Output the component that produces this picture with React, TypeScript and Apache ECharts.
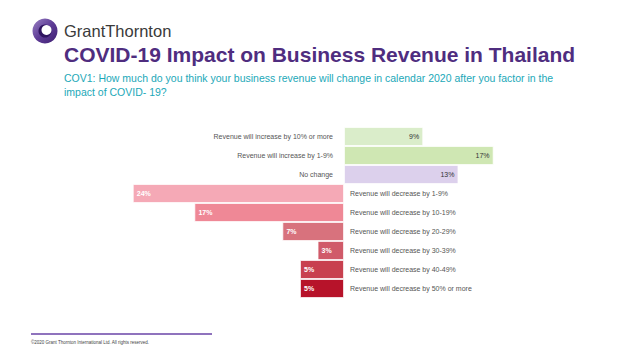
import React, { useEffect, useRef } from "react";
import * as echarts from "echarts";

const categories = [
  "Revenue will increase by 10% or more",
  "Revenue will increase by 1-9%",
  "No change",
  "Revenue will decrease by 1-9%",
  "Revenue will decrease by 10-19%",
  "Revenue will decrease by 20-29%",
  "Revenue will decrease by 30-39%",
  "Revenue will decrease by 40-49%",
  "Revenue will decrease by 50% or more",
];
const values = [9, 17, 13, -24, -17, -7, -3, -5, -5];
const barColors = [
  "#daedca",
  "#cfe7b3",
  "#dcd0ec",
  "#f5a9b6",
  "#ef8896",
  "#d8727d",
  "#d05a69",
  "#c8404f",
  "#b7132a",
];

const FONT = "'Liberation Sans', Arial, sans-serif";

export default function App() {
  const ref = useRef<HTMLDivElement>(null);
  useEffect(() => {
    if (!ref.current) return;
    const chart = echarts.init(ref.current, undefined, { renderer: "svg" });
    const valueData = values.map((v, i) => ({
      value: v,
      itemStyle: { color: barColors[i] },
      label: {
        show: true,
        position: v >= 0 ? "insideRight" : "insideLeft",
        distance: 4,
        color: v >= 0 ? "#333333" : "#ffffff",
        fontSize: 7,
        fontFamily: FONT,
        fontWeight: v >= 0 ? "normal" : "bold",
        formatter: Math.abs(v) + "%",
      },
    }));
    const catData = values.map((v, i) => ({
      value: v,
      label: {
        show: true,
        position: v >= 0 ? "left" : "right",
        distance: v >= 0 ? 11 : 6,
        color: "#555555",
        fontSize: 7,
        fontFamily: FONT,
        formatter: categories[i],
      },
    }));
    chart.setOption({
      animation: false,
      grid: { left: 124, width: 396, top: 127, height: 171, containLabel: false },
      xAxis: {
        type: "value",
        min: -25,
        max: 20,
        show: false,
      },
      yAxis: {
        type: "category",
        data: categories,
        inverse: true,
        show: false,
      },
      series: [
        {
          type: "bar",
          data: valueData,
          barCategoryGap: "0%",
          barGap: "-100%",
          itemStyle: { borderColor: "#ffffff", borderWidth: 0.8 },
        },
        {
          type: "bar",
          data: catData,
          barCategoryGap: "0%",
          barGap: "-100%",
          itemStyle: { color: "rgba(0,0,0,0)" },
          silent: true,
        },
      ],
      graphic: [
        {
          type: "circle",
          shape: { cx: 45, cy: 31, r: 12.5 },
          style: {
            fill: new echarts.graphic.LinearGradient(0, 0, 1, 1, [
              { offset: 0, color: "#9a82c4" },
              { offset: 0.5, color: "#5e3c96" },
              { offset: 1, color: "#3f1f72" },
            ]),
          },
        },
        {
          type: "circle",
          shape: { cx: 45, cy: 31, r: 6.5 },
          style: { fill: "#2f1460" },
        },
        {
          type: "circle",
          shape: { cx: 46.5, cy: 30, r: 5 },
          style: { fill: "#ffffff" },
        },
        {
          type: "text",
          x: 64,
          y: 22,
          style: {
            text: "GrantThornton",
            fontSize: 16.5,
            fontFamily: FONT,
            fill: "#3a3a3a",
          },
        },
        {
          type: "text",
          x: 64,
          y: 44,
          style: {
            text: "COVID-19 Impact on Business Revenue in Thailand",
            fontSize: 21,
            fontWeight: "bold",
            fontFamily: FONT,
            fill: "#4f2d7f",
          },
        },
        {
          type: "text",
          x: 64,
          y: 71,
          style: {
            text:
              "COV1: How much do you think your business revenue will change in calendar 2020 after you factor in the\nimpact of COVID- 19?",
            fontSize: 10.5,
            lineHeight: 14,
            fontFamily: FONT,
            fill: "#1ba8b8",
          },
        },
        {
          type: "line",
          shape: { x1: 31, y1: 334, x2: 212, y2: 334 },
          style: { stroke: "#8f73bd", lineWidth: 2 },
        },
        {
          type: "text",
          x: 31,
          y: 340,
          style: {
            text: "©2020 Grant Thornton International Ltd. All rights reserved.",
            fontSize: 4.5,
            fontFamily: FONT,
            fill: "#444444",
          },
        },
      ],
    });
    return () => chart.dispose();
  }, []);
  return <div ref={ref} style={{ width: 624, height: 350, position: "absolute", left: 0, top: 0, background: "#fff" }} />;
}
